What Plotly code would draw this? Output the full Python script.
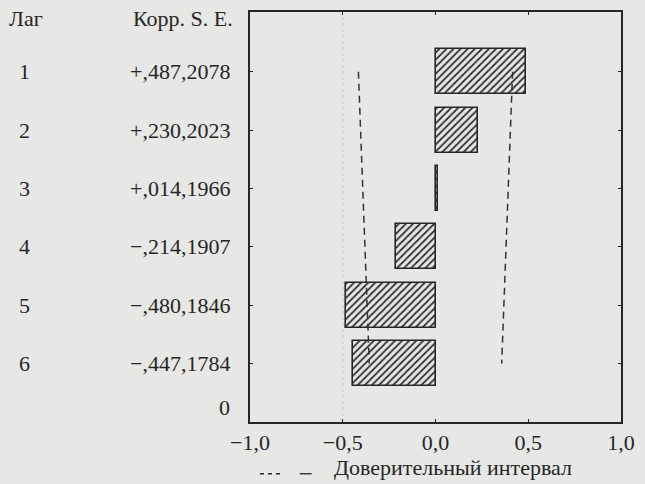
import plotly.graph_objects as go

lags = [1, 2, 3, 4, 5, 6]
corr = [0.487, 0.230, 0.014, -0.214, -0.480, -0.447]
se = [0.2078, 0.2023, 0.1966, 0.1907, 0.1846, 0.1784]
corr_text = ["+,487", "+,230", "+,014", "\u2212,214", "\u2212,480", "\u2212,447"]
se_text = [",2078", ",2023", ",1966", ",1907", ",1846", ",1784"]
tick_vals = [-1.0, -0.5, 0.0, 0.5, 1.0]
tick_text = ["\u22121,0", "\u22120,5", "0,0", "0,5", "1,0"]

BG = "#e7e7e5"
INK = "#262626"
FONT = "Liberation Serif"

fig = go.Figure()

upper = [2 * s for s in se]
lower = [-2 * s for s in se]
for xs in (lower, upper):
    fig.add_trace(go.Scatter(x=xs, y=lags, mode="lines",
                             line=dict(color="#333", width=1.5, dash="7px,5px"),
                             showlegend=False, hoverinfo="skip"))

fig.add_trace(go.Bar(
    x=corr, y=lags, orientation="h", width=0.77,
    marker=dict(color=BG, line=dict(color=INK, width=1.6),
                pattern=dict(shape="/", size=5, solidity=0.35, fgcolor="#333", bgcolor=BG,
                             fillmode="replace")),
    showlegend=False, hoverinfo="skip"))

annotations = []
for lg, c, s in zip(lags, corr_text, se_text):
    annotations.append(dict(x=-0.6086, y=lg, xref="paper", yref="y", text=str(lg),
                            showarrow=False, xanchor="center", yanchor="middle",
                            font=dict(family=FONT, size=22, color=INK)))
    annotations.append(dict(x=-0.048, y=lg, xref="paper", yref="y", text=c + s,
                            showarrow=False, xanchor="right", yanchor="middle",
                            font=dict(family=FONT, size=22, color=INK)))
annotations += [
    dict(x=-0.656, y=0.983, xref="paper", yref="paper", text="Лаг", showarrow=False,
         xanchor="left", yanchor="middle", font=dict(family=FONT, size=22, color=INK)),
    dict(x=-0.040, y=0.983, xref="paper", yref="paper", text="Корр. S. E.", showarrow=False,
         xanchor="right", yanchor="middle", font=dict(family=FONT, size=22, color=INK)),
    dict(x=-0.048, y=7, xref="paper", yref="y", text="0", showarrow=False,
         xanchor="right", yanchor="bottom", font=dict(family=FONT, size=22, color=INK)),
    dict(x=(332 - 250) / 373, y=(422 - 468) / 412, xref="paper", yref="paper",
         text="Доверительный интервал", showarrow=False, xanchor="left", yanchor="middle",
         font=dict(family=FONT, size=22, color=INK)),
]

shapes = [
    dict(type="line", xref="x", yref="paper", x0=-0.5, x1=-0.5, y0=0, y1=1,
         line=dict(color="#c6c6c6", width=1, dash="dot"), layer="below"),
    dict(type="line", xref="paper", yref="paper", x0=(260 - 250) / 373, x1=(284 - 250) / 373,
         y0=(422 - 474) / 412, y1=(422 - 474) / 412, line=dict(color=INK, width=1.3, dash="4px,4px")),
    dict(type="line", xref="paper", yref="paper", x0=(300 - 250) / 373, x1=(312 - 250) / 373,
         y0=(422 - 474) / 412, y1=(422 - 474) / 412, line=dict(color=INK, width=1.3)),
]

fig.update_layout(
    width=645, height=484,
    margin=dict(l=250, r=22, t=10, b=62),
    paper_bgcolor=BG, plot_bgcolor=BG,
    font=dict(family=FONT, size=22, color=INK),
    annotations=annotations, shapes=shapes,
    bargap=0,
    xaxis=dict(range=[-1, 1], tickvals=tick_vals, ticktext=tick_text,
               showgrid=False, zeroline=False, showline=True, mirror="ticks",
               linecolor=INK, linewidth=1.5, ticks="inside", ticklen=3,
               tickcolor=INK, tickfont=dict(family=FONT, size=22, color=INK)),
    yaxis=dict(range=[7, -0.025], tickvals=lags, showticklabels=False,
               showgrid=False, zeroline=False, showline=True, mirror="ticks",
               linecolor=INK, linewidth=1.5, ticks="inside", ticklen=3, tickcolor=INK),
)

fig.write_html("out.html")
